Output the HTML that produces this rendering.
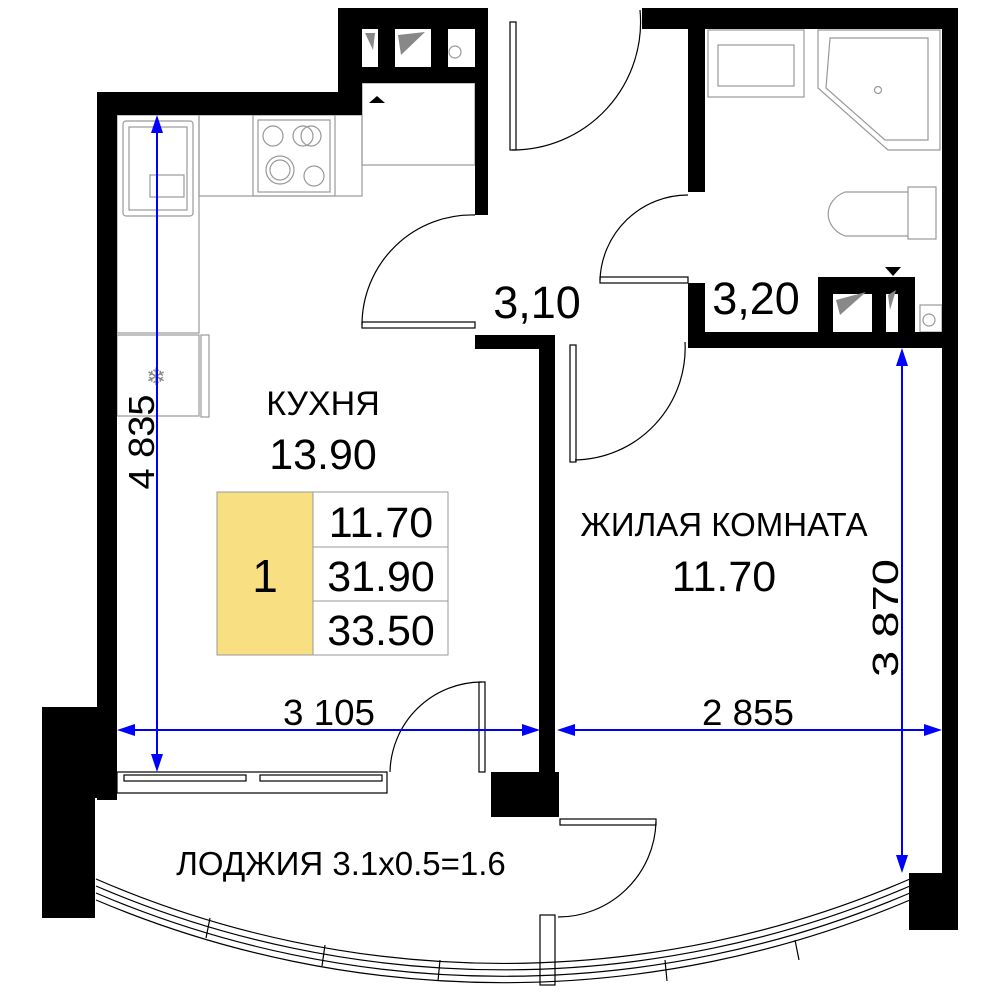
<!DOCTYPE html>
<html><head><meta charset="utf-8"><style>
html,body{margin:0;padding:0;background:#fff}
svg{display:block}
text{font-family:"Liberation Sans",sans-serif;fill:#000}
</style></head><body>
<svg width="1000" height="1000" viewBox="0 0 1000 1000" xmlns="http://www.w3.org/2000/svg">
<g fill="none" stroke="#999" stroke-width="1.2">
<rect x="117" y="115" width="82" height="218"/>
<rect x="199" y="115" width="163" height="81"/>
<rect x="253" y="115" width="82" height="81"/>
<rect x="258" y="120" width="72" height="72"/>
<circle cx="273" cy="136" r="10"/><circle cx="303" cy="136" r="10"/><circle cx="311" cy="136" r="10"/>
<circle cx="280" cy="170" r="14"/><circle cx="280" cy="170" r="10"/><circle cx="314" cy="176" r="10"/>
<rect x="123" y="121" width="70" height="95" rx="3"/>
<rect x="129" y="127" width="58" height="83"/>
<rect x="150" y="175" width="34" height="22"/>
<rect x="117" y="335" width="82" height="81"/>
<rect x="201" y="335" width="8" height="82"/>
<rect x="362" y="83" width="113" height="82"/>
<rect x="708" y="30" width="96" height="67"/>
<rect x="718" y="45" width="76" height="41"/>
<path d="M818 30 H940 V150 H888 L818 88 Z"/>
<path d="M830 38 H928 V140 H885 L826 88 Z"/>
<circle cx="878" cy="90" r="3.5"/>
<rect x="908" y="187" width="28" height="52"/>
<path d="M908 192 H845 A28 24 0 0 0 845 236 H908"/>
<rect x="920" y="305" width="22" height="27"/>
<circle cx="929" cy="320" r="6"/>
<circle cx="455" cy="52" r="6"/>
</g>
<text x="156" y="385" font-size="24" text-anchor="middle" style="fill:#888">❄</text>
<g fill="#000">
<rect x="97" y="92" width="20" height="708"/>
<rect x="97" y="92" width="265" height="23"/>
<rect x="338" y="8" width="150" height="21"/>
<rect x="338" y="8" width="24" height="107"/>
<rect x="338" y="67" width="150" height="16"/>
<rect x="378" y="29" width="17" height="38"/>
<rect x="431" y="29" width="17" height="38"/>
<rect x="475" y="8" width="13" height="207"/>
<rect x="475" y="335" width="80" height="14"/>
<rect x="539" y="335" width="16" height="440"/>
<rect x="491" y="772" width="68" height="45"/>
<rect x="642" y="8" width="316" height="21"/>
<rect x="688" y="8" width="17" height="184"/>
<rect x="688" y="283" width="17" height="65"/>
<rect x="688" y="332" width="270" height="16"/>
<rect x="818" y="277" width="97" height="17"/>
<rect x="818" y="277" width="15" height="60"/>
<rect x="872" y="277" width="14" height="60"/>
<rect x="898" y="277" width="17" height="60"/>
<rect x="942" y="8" width="16" height="900"/>
<rect x="909" y="873" width="49" height="57"/>
<rect x="42" y="707" width="75" height="91"/>
<rect x="42" y="707" width="53" height="211"/>
<path d="M369 103 L377 96 L385 103 Z"/>
<path d="M885 267 L893 276 L901 267 Z"/>
</g>
<g fill="#888"><path d="M365 33 L375 33 L373 50Z"/><path d="M398 35 L425 32 L401 55Z"/><path d="M836 300 L866 292 L840 315Z"/><path d="M888 295 L896 290 L890 310Z"/></g>
<g fill="none" stroke="#000" stroke-width="1.2">
<path d="M475 215 A110 110 0 0 0 362 325"/>
<rect x="362" y="322" width="113" height="6"/>
<path d="M688 195 A88 88 0 0 0 600 280"/>
<rect x="600" y="277" width="88" height="6"/>
<path d="M640 10 A128 128 0 0 1 512 150"/>
<rect x="510" y="22" width="6" height="128"/>
<path d="M685 342 A112 112 0 0 1 575 460"/>
<rect x="570" y="345" width="6" height="117"/>
<path d="M482 682 A92 92 0 0 0 390 772"/>
<rect x="479" y="682" width="6" height="90"/>
<path d="M656 822 A98 98 0 0 1 558 917"/>
<rect x="560" y="819" width="96" height="6"/>
<rect x="540" y="915" width="15" height="70"/>
<rect x="117" y="772" width="270" height="21"/>
<rect x="124" y="775" width="122" height="6"/>
<rect x="260" y="775" width="122" height="6"/>
<path d="M96 879 A1023 1023 0 0 0 910 879"/>
<path d="M96 886 A1030 1030 0 0 0 910 886"/>
<path d="M96 893 A1036 1036 0 0 0 910 893"/>
<path d="M96 900 A1043 1043 0 0 0 910 900"/>
<line x1="210" y1="918" x2="206" y2="938"/>
<line x1="325" y1="945" x2="322" y2="966"/>
<line x1="440" y1="960" x2="438" y2="981"/>
<line x1="665" y1="960" x2="667" y2="981"/>
<line x1="795" y1="940" x2="799" y2="960"/>
</g>
<g stroke="#0000ff" stroke-width="2" fill="#0000ff">
<line x1="157" y1="125" x2="157" y2="762"/>
<path d="M157 115 L151 133 L163 133Z" stroke="none"/>
<path d="M157 772 L151 754 L163 754Z" stroke="none"/>
<line x1="127" y1="730" x2="530" y2="730"/>
<path d="M117 730 L135 724 L135 736Z" stroke="none"/>
<path d="M540 730 L522 724 L522 736Z" stroke="none"/>
<line x1="567" y1="730" x2="932" y2="730"/>
<path d="M557 730 L575 724 L575 736Z" stroke="none"/>
<path d="M942 730 L924 724 L924 736Z" stroke="none"/>
<line x1="902" y1="358" x2="902" y2="863"/>
<path d="M902 348 L896 366 L908 366Z" stroke="none"/>
<path d="M902 873 L896 855 L908 855Z" stroke="none"/>
</g>
<text x="329" y="725" font-size="36" text-anchor="middle" textLength="92" lengthAdjust="spacingAndGlyphs">3 105</text>
<text x="748" y="725" font-size="36" text-anchor="middle" textLength="92" lengthAdjust="spacingAndGlyphs">2 855</text>
<text transform="translate(154,442) rotate(-90)" font-size="36" text-anchor="middle" textLength="95" lengthAdjust="spacingAndGlyphs">4 835</text>
<text transform="translate(898,618) rotate(-90)" font-size="36" text-anchor="middle" textLength="118" lengthAdjust="spacingAndGlyphs">3 870</text>
<rect x="217" y="492" width="96" height="163" fill="#f7df82" stroke="#999"/>
<g fill="none" stroke="#999"><rect x="313" y="492" width="135" height="55"/><rect x="313" y="547" width="135" height="54"/><rect x="313" y="601" width="135" height="54"/></g>
<text x="265" y="592" font-size="46" text-anchor="middle">1</text>
<text x="381" y="537" font-size="43" text-anchor="middle">11.70</text>
<text x="381" y="591" font-size="43" text-anchor="middle">31.90</text>
<text x="381" y="645" font-size="43" text-anchor="middle">33.50</text>
<text x="323" y="415" font-size="34" text-anchor="middle">КУХНЯ</text>
<text x="323" y="469" font-size="43" text-anchor="middle">13.90</text>
<text x="724" y="536" font-size="33" text-anchor="middle">ЖИЛАЯ КОМНАТА</text>
<text x="724" y="591" font-size="43" text-anchor="middle">11.70</text>
<text x="537" y="318" font-size="45" text-anchor="middle">3,10</text>
<text x="756" y="314" font-size="45" text-anchor="middle">3,20</text>
<text x="341" y="875" font-size="33" text-anchor="middle">ЛОДЖИЯ 3.1x0.5=1.6</text>
</svg>
</body></html>
